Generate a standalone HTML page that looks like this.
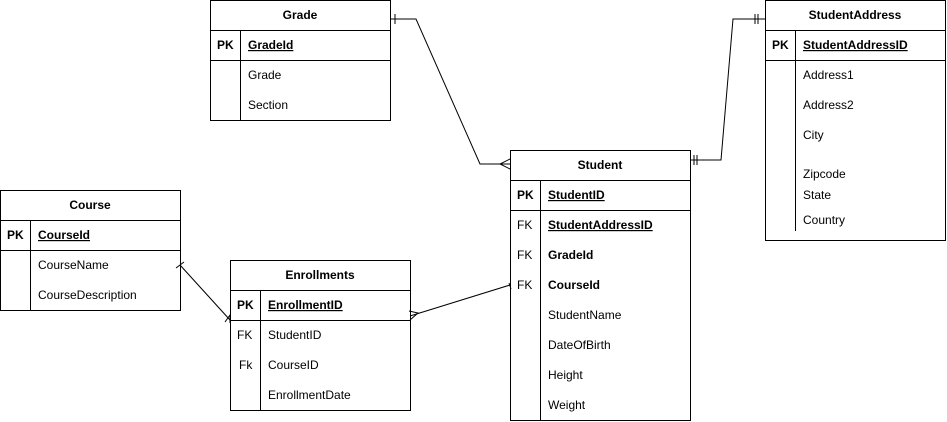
<!DOCTYPE html>
<html><head><meta charset="utf-8"><style>
html,body{margin:0;padding:0;background:#fff;}
svg{display:block;font-family:"Liberation Sans",Arial,sans-serif;font-size:12px;}
.b{font-weight:bold;}
</style></head><body>
<svg width="947" height="422" viewBox="0 0 947 422" xmlns="http://www.w3.org/2000/svg">
<g fill="none" stroke="#000" stroke-width="1">
<!-- Grade -->
<rect x="210.5" y="0.5" width="180" height="120"/>
<line x1="210" y1="30.5" x2="390" y2="30.5"/><line x1="210" y1="60.5" x2="390" y2="60.5"/>
<line x1="240.5" y1="30" x2="240.5" y2="120"/>
<!-- StudentAddress -->
<rect x="765.5" y="0.5" width="180" height="240"/>
<line x1="765" y1="30.5" x2="945" y2="30.5"/><line x1="765" y1="60.5" x2="945" y2="60.5"/>
<line x1="795.5" y1="30" x2="795.5" y2="231"/>
<!-- Student -->
<rect x="510.5" y="150.5" width="180" height="270"/>
<line x1="510" y1="180.5" x2="690" y2="180.5"/><line x1="510" y1="210.5" x2="690" y2="210.5"/>
<line x1="540.5" y1="180" x2="540.5" y2="420"/>
<!-- Course -->
<rect x="0.5" y="190.5" width="180" height="120"/>
<line x1="0" y1="220.5" x2="180" y2="220.5"/><line x1="0" y1="250.5" x2="180" y2="250.5"/>
<line x1="30.5" y1="220" x2="30.5" y2="310"/>
<!-- Enrollments -->
<rect x="230.5" y="260.5" width="180" height="150"/>
<line x1="230" y1="290.5" x2="410" y2="290.5"/><line x1="230" y1="320.5" x2="410" y2="320.5"/>
<line x1="260.5" y1="290" x2="260.5" y2="410"/>
</g>
<!-- connectors -->
<g fill="none" stroke="#000" stroke-width="1">
<polyline points="390,19 416,19 480,164 510,164"/>
<line x1="395" y1="14" x2="395" y2="24"/>
<polyline points="510,159 500,164 510,169"/>
<polyline points="690,160 721,160 733,19 765,19"/>
<line x1="694" y1="155" x2="694" y2="165"/><line x1="697" y1="155" x2="697" y2="165"/>
<line x1="755" y1="14" x2="755" y2="24"/><line x1="758" y1="14" x2="758" y2="24"/>
<line x1="180" y1="265" x2="230" y2="320"/>
<line x1="176" y1="268" x2="184" y2="262"/>
<polyline points="225,322 230,315 230,323"/>
<line x1="410" y1="316" x2="510" y2="285"/>
<polyline points="409,311 418,313 410,320"/>
<line x1="509" y1="283" x2="511" y2="289"/>
</g>
<g fill="#000">
<text x="300" y="19" text-anchor="middle" class="b">Grade</text>
<text x="217" y="49" class="b">PK</text>
<text x="248" y="49" class="b" text-decoration="underline">GradeId</text>
<text x="248" y="79">Grade</text>
<text x="248" y="109">Section</text>

<text x="855" y="19" text-anchor="middle" class="b">StudentAddress</text>
<text x="772" y="49" class="b">PK</text>
<text x="803" y="49" class="b" text-decoration="underline">StudentAddressID</text>
<text x="803" y="79">Address1</text>
<text x="803" y="109">Address2</text>
<text x="803" y="139">City</text>
<text x="803" y="178">Zipcode</text>
<text x="803" y="199">State</text>
<text x="803" y="224">Country</text>

<text x="600" y="169" text-anchor="middle" class="b">Student</text>
<text x="517" y="199" class="b">PK</text>
<text x="548" y="199" class="b" text-decoration="underline">StudentID</text>
<text x="517" y="229">FK</text>
<text x="548" y="229" class="b" text-decoration="underline">StudentAddressID</text>
<text x="517" y="259">FK</text>
<text x="548" y="259" class="b">GradeId</text>
<text x="517" y="289">FK</text>
<text x="548" y="289" class="b">CourseId</text>
<text x="548" y="319">StudentName</text>
<text x="548" y="349">DateOfBirth</text>
<text x="548" y="379">Height</text>
<text x="548" y="409">Weight</text>

<text x="90" y="209" text-anchor="middle" class="b">Course</text>
<text x="7" y="239" class="b">PK</text>
<text x="38" y="239" class="b" text-decoration="underline">CourseId</text>
<text x="38" y="269">CourseName</text>
<text x="38" y="299">CourseDescription</text>

<text x="320" y="279" text-anchor="middle" class="b">Enrollments</text>
<text x="237" y="309" class="b">PK</text>
<text x="268" y="309" class="b" text-decoration="underline">EnrollmentID</text>
<text x="237" y="339">FK</text>
<text x="268" y="339">StudentID</text>
<text x="239" y="369">Fk</text>
<text x="268" y="369">CourseID</text>
<text x="268" y="399">EnrollmentDate</text>
</g>
</svg>
</body></html>
